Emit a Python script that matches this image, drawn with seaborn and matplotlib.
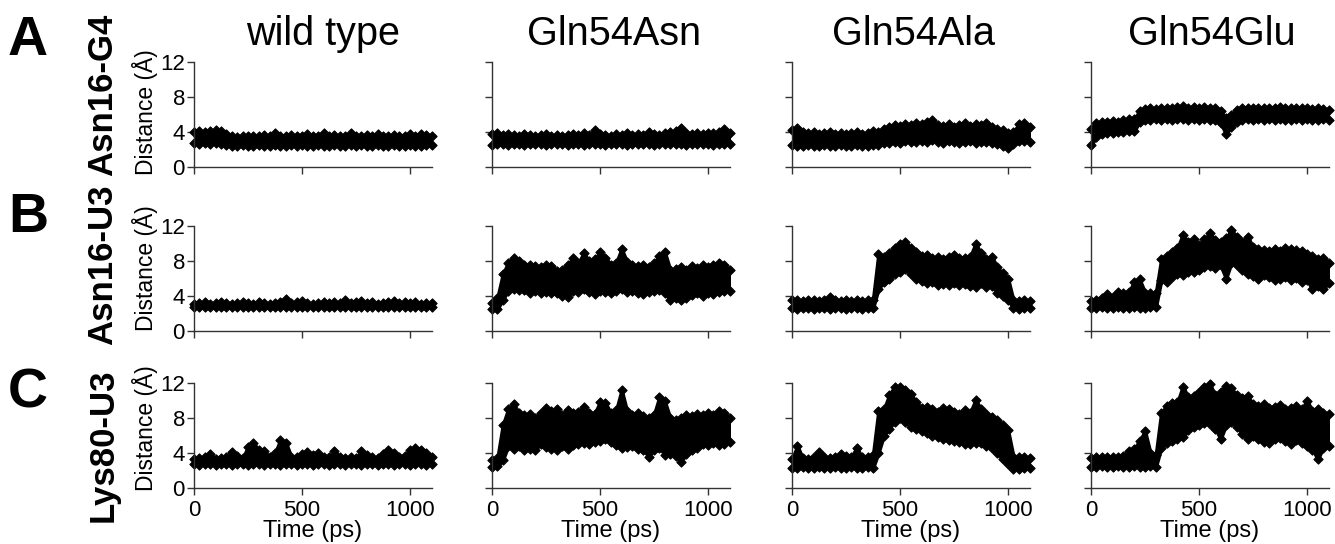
import numpy as np
import pandas as pd
import matplotlib
matplotlib.use("Agg")
import matplotlib.pyplot as plt
import seaborn as sns

TIME = [0, 25, 50, 75, 100, 125, 150, 175, 200, 225, 250, 275, 300, 325, 350,
        375, 400, 425, 450, 475, 500, 525, 550, 575, 600, 625, 650, 675, 700,
        725, 750, 775, 800, 825, 850, 875, 900, 925, 950, 975, 1000, 1025,
        1050, 1075, 1100]

COLUMNS = ["wild type", "Gln54Asn", "Gln54Ala", "Gln54Glu"]
ROWS = ["Asn16-G4", "Asn16-U3", "Lys80-U3"]
LETTERS = ["A", "B", "C"]
Y_TICKS = [0, 4, 8, 12]
X_TICKS = [0, 500, 1000]

# row A: Asn16-G4 distance (lower / upper edge of the trace)
wt_a_hi = [4.0, 4.1, 4.0, 4.1, 4.2, 4.1, 3.8, 3.5, 3.4, 3.5, 3.5, 3.6, 3.5, 3.7, 3.5, 3.9, 3.5, 3.6, 3.7, 3.5, 3.6, 3.8, 3.5,
           3.6, 3.9, 3.5, 3.7, 3.5, 3.6, 3.9, 3.6, 3.5, 3.7, 3.6, 3.8, 3.5, 3.6, 3.7, 3.5, 3.6, 3.8, 3.6, 3.8, 3.7, 3.6]
wt_a_lo = [2.7, 2.6, 2.7, 2.6, 2.7, 2.6, 2.5, 2.4, 2.4, 2.5, 2.4, 2.4, 2.5, 2.4, 2.4, 2.5, 2.4, 2.4, 2.5, 2.4, 2.5, 2.4, 2.4,
           2.5, 2.4, 2.4, 2.5, 2.4, 2.4, 2.5, 2.4, 2.5, 2.4, 2.4, 2.5, 2.4, 2.4, 2.5, 2.4, 2.4, 2.5, 2.4, 2.4, 2.5, 2.5]
asn_a_hi = [3.8, 3.9, 3.7, 3.8, 3.7, 3.6, 3.8, 3.7, 3.6, 3.7, 3.8, 3.6, 3.7, 3.6, 3.7, 3.8, 3.7, 3.9, 3.7, 4.2, 3.8, 3.7, 3.6,
            3.8, 3.7, 3.9, 3.7, 3.8, 3.7, 4.0, 3.8, 3.7, 3.9, 4.0, 4.1, 4.5, 3.9, 3.8, 3.9, 3.8, 3.9, 3.9, 4.0, 4.3, 3.9]
asn_a_lo = [2.5, 2.6, 2.6, 2.5, 2.6, 2.6, 2.5, 2.6, 2.6, 2.6, 2.5, 2.6, 2.6, 2.6, 2.5, 2.6, 2.6, 2.5, 2.6, 2.6, 2.6, 2.5, 2.6,
            2.6, 2.6, 2.5, 2.6, 2.6, 2.6, 2.6, 2.5, 2.6, 2.6, 2.6, 2.6, 2.6, 2.5, 2.6, 2.6, 2.6, 2.6, 2.5, 2.6, 2.6, 2.6]
ala_a_hi = [4.2, 4.5, 4.0, 3.9, 4.0, 3.8, 3.9, 4.0, 3.8, 3.9, 3.8, 3.9, 4.0, 3.8, 3.9, 4.1, 4.0, 4.3, 4.6, 4.8, 4.7, 4.9, 4.8,
            5.0, 4.9, 5.1, 5.4, 4.8, 4.7, 4.9, 4.6, 4.8, 5.0, 4.7, 4.9, 4.8, 5.0, 4.6, 4.4, 4.2, 3.9, 4.0, 4.9, 5.0, 4.6]
ala_a_lo = [2.5, 2.4, 2.4, 2.5, 2.4, 2.4, 2.5, 2.4, 2.4, 2.5, 2.4, 2.4, 2.5, 2.4, 2.4, 2.5, 2.5, 2.7, 2.8, 2.9, 2.8, 3.0, 2.9,
            2.9, 3.0, 2.9, 3.1, 2.9, 2.8, 3.0, 2.9, 2.8, 2.9, 3.0, 2.8, 2.9, 2.9, 2.7, 2.6, 2.4, 2.2, 2.6, 3.0, 3.0, 2.9]
glu_a_hi = [4.4, 5.0, 5.1, 5.2, 5.3, 5.2, 5.4, 5.5, 5.5, 6.4, 6.6, 6.7, 6.6, 6.8, 6.7, 6.8, 6.9, 7.0, 6.8, 6.9, 6.8, 6.9, 6.7,
            6.8, 6.4, 5.6, 6.0, 6.5, 6.8, 6.7, 6.8, 6.7, 6.8, 6.7, 6.8, 6.9, 6.8, 6.7, 6.8, 6.7, 6.8, 6.6, 6.7, 6.6, 6.5]
glu_a_lo = [2.5, 3.4, 3.8, 3.9, 3.9, 4.0, 4.0, 4.1, 4.1, 5.2, 5.4, 5.4, 5.5, 5.4, 5.5, 5.4, 5.5, 5.5, 5.4, 5.5, 5.4, 5.5, 5.4,
            5.4, 5.0, 3.8, 4.6, 5.2, 5.4, 5.5, 5.4, 5.5, 5.4, 5.5, 5.4, 5.5, 5.4, 5.4, 5.5, 5.4, 5.5, 5.4, 5.4, 5.5, 5.4]

# row B: Asn16-U3 distance
wt_b_hi = [3.1, 3.2, 3.3, 3.1, 3.2, 3.3, 3.2, 3.1, 3.2, 3.3, 3.2, 3.1, 3.3, 3.2, 3.1, 3.2, 3.3, 3.7, 3.2, 3.3, 3.4, 3.2, 3.1,
           3.2, 3.3, 3.2, 3.3, 3.2, 3.5, 3.2, 3.3, 3.4, 3.2, 3.3, 3.1, 3.2, 3.3, 3.4, 3.2, 3.3, 3.2, 3.3, 3.1, 3.2, 3.2]
wt_b_lo = [2.8, 2.7, 2.8, 2.8, 2.7, 2.8, 2.8, 2.7, 2.8, 2.8, 2.7, 2.8, 2.8, 2.7, 2.8, 2.8, 2.7, 2.8, 2.8, 2.7, 2.8, 2.8, 2.7,
           2.8, 2.8, 2.7, 2.8, 2.8, 2.7, 2.8, 2.8, 2.7, 2.8, 2.8, 2.7, 2.8, 2.8, 2.7, 2.8, 2.8, 2.7, 2.8, 2.8, 2.7, 2.8]
asn_b_hi = [3.2, 3.8, 6.5, 7.8, 8.4, 8.0, 7.5, 7.6, 7.4, 7.3, 7.6, 7.4, 6.9, 7.0, 7.6, 8.3, 7.8, 8.9, 8.0, 8.2, 9.0, 8.4, 7.6,
            7.8, 9.4, 7.9, 7.5, 7.4, 7.6, 7.3, 7.8, 8.6, 9.0, 7.0, 7.1, 7.3, 7.0, 7.4, 7.2, 7.5, 7.3, 7.6, 7.8, 7.5, 7.0]
asn_b_lo = [2.5, 2.5, 3.6, 4.6, 4.8, 4.7, 4.7, 4.4, 4.6, 4.4, 4.5, 4.3, 4.4, 4.0, 3.9, 4.6, 4.5, 4.8, 4.5, 4.2, 4.6, 4.5, 4.3,
            4.6, 4.8, 4.5, 4.6, 4.3, 4.2, 4.5, 4.6, 4.7, 4.3, 3.6, 3.8, 3.5, 3.8, 4.1, 4.3, 4.0, 4.4, 4.2, 4.5, 4.6, 4.6]
ala_b_hi = [3.5, 3.5, 3.4, 3.5, 3.5, 3.4, 3.6, 3.9, 3.5, 3.4, 3.5, 3.4, 3.5, 3.4, 3.5, 3.6, 8.8, 8.5, 8.9, 9.5, 10.0, 10.2, 9.5,
            9.0, 8.6, 8.7, 8.4, 8.5, 8.2, 8.5, 8.7, 8.3, 8.4, 8.5, 10.0, 8.9, 8.2, 8.5, 7.3, 6.6, 6.0, 3.5, 3.4, 3.5, 3.4]
ala_b_lo = [2.6, 2.5, 2.6, 2.6, 2.5, 2.6, 2.6, 2.5, 2.6, 2.6, 2.5, 2.6, 2.6, 2.5, 2.6, 2.6, 4.8, 5.6, 6.0, 6.5, 6.8, 7.1, 6.5,
            6.0, 5.7, 5.5, 5.6, 5.3, 5.4, 5.3, 5.5, 5.3, 5.4, 5.2, 5.0, 5.5, 5.0, 5.2, 4.4, 4.0, 3.6, 2.6, 2.5, 2.6, 2.6]
glu_b_hi = [3.4, 3.5, 3.8, 4.2, 3.9, 4.5, 4.4, 4.5, 5.6, 5.9, 4.4, 4.3, 4.3, 8.2, 8.6, 9.0, 9.5, 11.0, 10.2, 10.5, 9.8, 10.5,
            11.2, 10.4, 10.2, 10.6, 11.6, 10.7, 10.2, 10.8, 9.6, 9.4, 9.3, 9.2, 9.4, 9.2, 9.5, 9.4, 9.3, 9.2, 8.8, 8.6, 8.2,
            8.4, 7.8]
glu_b_lo = [2.6, 2.6, 2.7, 2.6, 2.6, 2.7, 2.6, 2.6, 2.7, 2.6, 2.6, 2.7, 2.7, 5.8, 5.6, 6.2, 6.5, 6.4, 6.8, 6.8, 7.0, 7.3, 7.4,
            7.2, 7.5, 6.0, 7.8, 7.6, 7.0, 6.5, 6.3, 6.0, 6.4, 6.2, 5.8, 6.0, 6.2, 5.8, 6.1, 5.6, 5.8, 4.8, 5.2, 4.8, 5.5]

# row C: Lys80-U3 distance
wt_c_hi = [3.3, 3.4, 3.5, 3.9, 3.3, 3.4, 3.6, 4.1, 3.7, 3.4, 4.7, 5.1, 4.4, 4.2, 3.6, 4.0, 5.5, 5.2, 3.6, 3.5, 3.9, 4.1, 3.8,
           4.0, 3.6, 3.5, 4.2, 3.6, 3.4, 3.5, 3.4, 4.2, 3.8, 3.5, 3.4, 3.9, 4.3, 4.0, 3.6, 3.7, 4.3, 4.6, 4.4, 4.0, 3.6]
wt_c_lo = [2.7, 2.6, 2.7, 2.7, 2.6, 2.7, 2.7, 2.6, 2.7, 2.7, 2.6, 2.7, 2.7, 2.6, 2.7, 2.7, 2.6, 2.7, 2.7, 2.6, 2.7, 2.7, 2.6,
           2.7, 2.7, 2.6, 2.7, 2.7, 2.6, 2.7, 2.7, 2.6, 2.7, 2.7, 2.6, 2.7, 2.7, 2.6, 2.7, 2.7, 2.6, 2.7, 2.7, 2.6, 2.7]
asn_c_hi = [3.2, 3.4, 7.2, 9.0, 9.6, 8.6, 8.4, 8.5, 8.0, 8.6, 9.2, 8.8, 9.0, 8.4, 8.9, 8.6, 8.7, 9.3, 8.6, 8.5, 9.8, 9.7, 8.6,
            8.9, 11.2, 8.8, 8.4, 8.6, 8.2, 8.0, 8.4, 10.4, 9.9, 8.0, 7.8, 8.0, 8.3, 8.2, 8.5, 8.3, 8.6, 8.4, 8.8, 8.6, 8.0]
asn_c_lo = [2.4, 2.5, 3.2, 4.8, 4.5, 4.8, 4.4, 4.5, 4.4, 5.0, 4.7, 4.5, 4.4, 4.8, 4.5, 4.9, 5.0, 5.2, 5.0, 5.3, 5.4, 5.6, 5.3,
            4.9, 4.6, 4.7, 4.8, 4.5, 4.4, 3.6, 4.4, 4.6, 3.8, 3.9, 3.7, 3.0, 3.9, 4.3, 4.6, 5.0, 4.9, 5.1, 4.9, 5.0, 5.3]
ala_c_hi = [3.3, 4.8, 3.4, 3.3, 3.6, 4.1, 3.6, 3.4, 3.6, 3.9, 3.7, 3.6, 4.6, 3.5, 3.6, 3.8, 8.8, 9.0, 10.6, 11.6, 11.6, 11.2,
            10.8, 9.8, 9.2, 9.3, 9.0, 8.7, 9.2, 9.0, 8.7, 8.5, 8.9, 8.6, 10.1, 9.0, 8.5, 8.1, 7.8, 7.2, 6.6, 3.6, 3.5, 3.6,
            3.4]
ala_c_lo = [2.3, 2.3, 2.4, 2.3, 2.3, 2.4, 2.3, 2.3, 2.4, 2.3, 2.3, 2.4, 2.3, 2.3, 2.4, 2.3, 4.0, 6.0, 6.8, 7.6, 8.0, 7.6, 7.0,
            6.7, 6.5, 6.3, 6.0, 5.8, 5.6, 5.5, 5.4, 5.3, 5.0, 5.0, 5.2, 5.1, 4.8, 4.6, 4.0, 3.3, 2.8, 2.2, 2.2, 2.3, 2.3]
glu_c_hi = [3.4, 3.5, 3.6, 3.5, 3.6, 3.5, 3.7, 4.2, 4.5, 5.4, 6.5, 4.0, 3.8, 8.6, 9.4, 9.7, 9.8, 11.6, 10.4, 10.5, 11.0, 11.6,
            11.9, 10.6, 11.0, 11.7, 11.4, 10.6, 10.3, 10.5, 9.6, 9.4, 9.6, 9.2, 9.3, 9.5, 9.0, 9.2, 9.4, 9.0, 10.0, 8.8, 9.0,
            8.6, 8.5]
glu_c_lo = [2.4, 2.4, 2.5, 2.4, 2.4, 2.5, 2.4, 2.4, 2.5, 2.4, 2.4, 2.5, 2.4, 4.6, 5.2, 5.4, 5.6, 5.8, 6.6, 7.0, 7.2, 7.4, 7.3,
            6.8, 5.6, 7.2, 7.5, 7.0, 6.2, 5.6, 6.0, 5.6, 5.3, 5.2, 5.6, 5.7, 5.4, 5.0, 5.5, 5.2, 4.8, 4.4, 3.3, 4.6, 4.8]

PANELS = [
    [(wt_a_lo, wt_a_hi), (asn_a_lo, asn_a_hi), (ala_a_lo, ala_a_hi), (glu_a_lo, glu_a_hi)],
    [(wt_b_lo, wt_b_hi), (asn_b_lo, asn_b_hi), (ala_b_lo, ala_b_hi), (glu_b_lo, glu_b_hi)],
    [(wt_c_lo, wt_c_hi), (asn_c_lo, asn_c_hi), (ala_c_lo, ala_c_hi), (glu_c_lo, glu_c_hi)],
]

sns.set_style("ticks")
plt.rcParams["font.family"] = ["Liberation Sans", "DejaVu Sans"]
plt.rcParams["text.color"] = "black"
plt.rcParams["axes.labelcolor"] = "black"
AXC = "#333333"

W, H = 1335, 544
fig = plt.figure(figsize=(W / 100, H / 100), dpi=100)

# layout in pixels
col_left = [194, 492, 792, 1091]
row_bottom = [167, 331, 488]
ax_w, ax_h = 237.6, 105

for r in range(3):
    for c in range(4):
        ax = fig.add_axes([col_left[c] / W, 1 - row_bottom[r] / H, ax_w / W, ax_h / H])
        lo, hi = PANELS[r][c]
        df = pd.DataFrame({"time": TIME + TIME, "dist": lo + hi})
        ax.fill_between(TIME, lo, hi, color="black", lw=2.5)
        sns.scatterplot(data=df, x="time", y="dist", marker="D", s=22, color="black",
                        linewidth=0.8, edgecolor="black", ax=ax, clip_on=False, legend=False)
        ax.set_xlim(0, 1100)
        ax.set_ylim(0, 12)
        ax.set_xticks(X_TICKS)
        ax.set_yticks(Y_TICKS)
        sns.despine(ax=ax)
        for s in ["left", "bottom"]:
            ax.spines[s].set_color(AXC)
            ax.spines[s].set_linewidth(1.0)
        ax.tick_params(axis="both", length=5, width=1.0, color=AXC, labelcolor="black",
                       labelsize=16)
        ax.tick_params(axis="y", pad=1.5)
        ax.tick_params(axis="x", pad=4)
        ax.set_ylabel("")
        if r == 2:
            ax.set_xlabel("Time (ps)", fontsize=17, labelpad=-1)
        else:
            ax.set_xlabel("")
            ax.set_xticklabels([])
        if c > 0:
            ax.set_yticklabels([])

# column titles
for x, name in zip([323, 614, 913, 1212], COLUMNS):
    fig.text(x / W, 1 - 45 / H, name, ha="center", va="baseline", fontsize=28.5)

# panel letters, row labels and y labels
letter_base = [55, 232, 408]
label_center = [95, 265, 445]
dist_center = [112, 268, 428]
for r in range(3):
    fig.text(8 / W, 1 - letter_base[r] / H, LETTERS[r], ha="left", va="baseline",
             fontsize=40, fontweight="bold")
    fig.text(103 / W, 1 - label_center[r] / H, ROWS[r], ha="center", va="center",
             rotation=90, fontsize=25, fontweight="bold")
    fig.text(145 / W, 1 - dist_center[r] / H, "Distance (Å)", ha="center", va="center",
             rotation=90, fontsize=16.5)

fig.savefig("out.png", dpi=100)
